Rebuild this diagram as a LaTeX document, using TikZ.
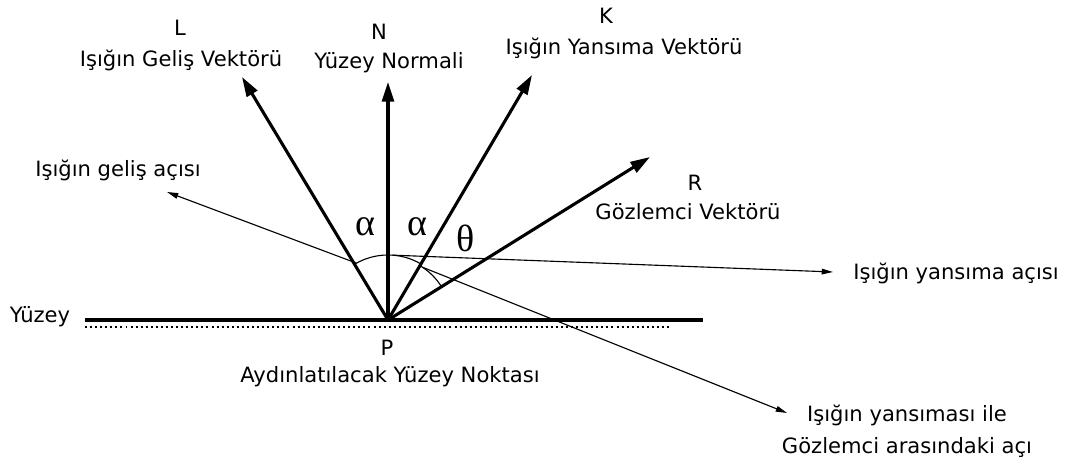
\documentclass[tikz,border=0pt]{standalone}
\usepackage{fontspec}
\setmainfont{DejaVu Sans}
\newfontfamily\greekfont{Liberation Serif}
\usetikzlibrary{arrows.meta}

\tikzset{
  vec/.style={line width=2.2pt, -{Triangle[length=14pt,width=8.5pt]}},
  pointer/.style={line width=0.8pt, -{Triangle[length=8pt,width=4pt]}},
  anglearc/.style={line width=0.8pt},
  lbl/.style={inner sep=0pt, align=center, font=\fontsize{15}{22.8}\selectfont},
  greek/.style={inner sep=0pt, font=\greekfont\fontsize{27}{27}\selectfont}
}

% name, letter pos, letter, text pos, text
\newcommand{\veclabel}[5]{
    \node[lbl] (#1let) at (#2) {#3};
    \node[lbl] (#1txt) at (#4) {#5};
}

\begin{document}
\begin{tikzpicture}[x=0.025cm, y=0.025cm]
  \useasboundingbox (0,0) rectangle (1069,465);

  % surface
  \coordinate (P) at (388,145);
  \draw[line width=2.2pt] (85,145) -- (703,145);
  \draw[line width=1.6pt, dash pattern=on 1.4pt off 2.2pt] (85,138) -- (670,138);

  % vectors
  \coordinate (L) at (242,388);
  \coordinate (N) at (388,383);
  \coordinate (K) at (532,390);
  \coordinate (R) at (650,308);
  \draw[vec] (P) -- (L);
  \draw[vec] (P) -- (N);
  \draw[vec] (P) -- (K);
  \draw[vec] (P) -- (R);

  % angles
  \draw[anglearc] ([shift={(59.5:65)}]P) arc[start angle=59.5, end angle=121, radius=65];
  \draw[anglearc] ([shift={(31.6:63)}]P) arc[start angle=31.6, end angle=59.4, radius=63];

  \coordinate (gelisStart) at ([shift={(119:65)}]P);
  \coordinate (gelisTip) at (167,273);
  \coordinate (yansimaStart) at ([shift={(86:65)}]P);
  \coordinate (yansimaTip) at (833,193);
  \coordinate (gozlemStart) at ([shift={(57:63)}]P);
  \coordinate (gozlemTip) at (787,52);
  \draw[pointer] (gelisStart) -- (gelisTip);
  \draw[pointer] (yansimaStart) -- (yansimaTip);
  \draw[pointer] (gozlemStart) -- (gozlemTip);

  \node[greek] (alphaL) at (365,238) {α};
  \node[greek] (alphaK) at (417,238) {α};
  \node[greek] (theta) at (466,227) {θ};

  % labels
  \veclabel{L}{180,437}{L}{181,405}{Işığın Geliş Vektörü}
  \veclabel{N}{379,433}{N}{389,402}{Yüzey Normali}
  \veclabel{K}{606,449}{K}{624,417}{Işığın Yansıma Vektörü}
  \veclabel{R}{695,282}{R}{688,253}{Gözlemci Vektörü}
  \veclabel{P}{387,117}{P}{390,88}{Aydınlatılacak Yüzey Noktası}
  \node[lbl] (gelisLbl) at (118,295) {Işığın geliş açısı};
  \node[lbl] (yuzey) at (40,148) {Yüzey};
  \node[lbl] (yansimaLbl) at (956,192) {Işığın yansıma açısı};
  \node[lbl] (gozlemLbl) at (907,34) {Işığın yansıması ile\\Gözlemci arasındaki açı};

\end{tikzpicture}
\end{document}
